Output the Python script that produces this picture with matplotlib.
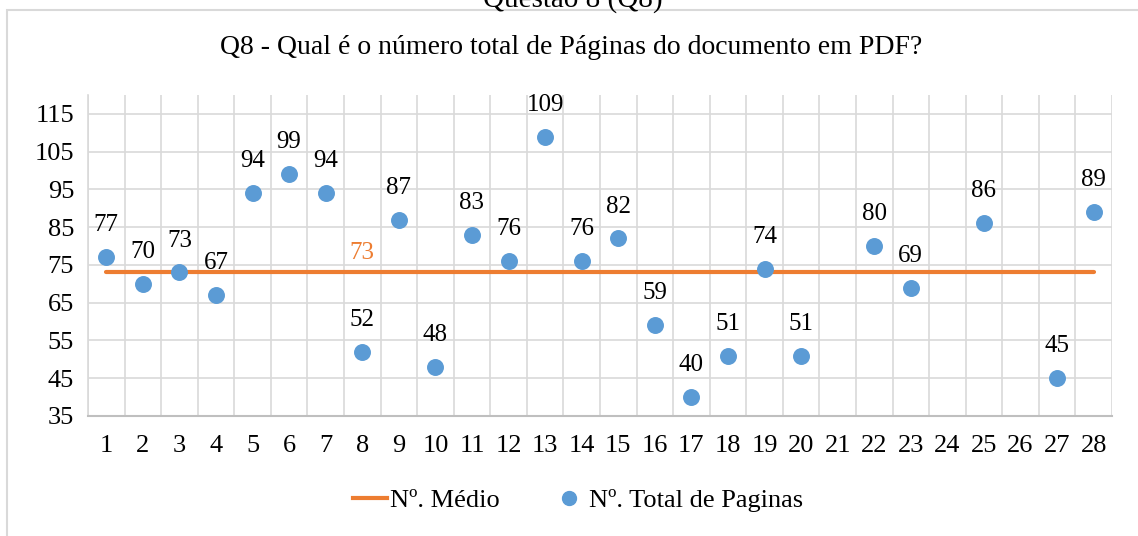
import matplotlib.pyplot as plt
from matplotlib.patches import Rectangle
from matplotlib.lines import Line2D

plt.rcParams['font.family'] = ['Liberation Serif', 'DejaVu Serif']

# data
categorias = list(range(1, 29))
x_pontos = [1, 2, 3, 4, 5, 6, 7, 8, 9, 10, 11, 12, 13, 14, 15, 16, 17, 18, 19, 20,
            22, 23, 25, 27, 28]
paginas = [77, 70, 73, 67, 94, 99, 94, 52, 87, 48, 83, 76, 109, 76, 82, 59, 40, 51, 74, 51,
           80, 69, 86, 45, 89]
media = 73
media_x = [1, 28]

azul = '#5B9BD5'
laranja = '#ED7D31'
grade = '#D9D9D9'

fig = plt.figure(figsize=(11.38, 5.36), dpi=100)
ax = fig.add_axes([0.0773, 0.2239, 0.8998, 0.5989])

# chart border (cut off at right/bottom like the screenshot)
fig.patches.append(Rectangle((0.006, -0.05), 1.1, 0.981 + 0.05, transform=fig.transFigure,
                             fill=False, edgecolor=grade, linewidth=1.5))

fig.text(0.503, 0.987, 'Questão 8 (Q8)', ha='center', va='baseline', fontsize=21)
fig.text(0.502, 0.912, 'Q8 - Qual é o número total de Páginas do documento em PDF?',
         ha='center', va='center', fontsize=20)

ax.plot(media_x, [media, media], color=laranja, linewidth=3, solid_capstyle='round',
        zorder=3, label='Nº. Médio')
ax.scatter(x_pontos, paginas, s=125, color=azul, zorder=4, label='Nº. Total de Paginas')

for xi, yi in zip(x_pontos, paginas):
    ax.annotate(str(yi), (xi, yi), xytext=(0, 23), textcoords='offset points',
                ha='center', va='center', fontsize=18)
ax.annotate(str(media), (8, media), xytext=(0, 14), textcoords='offset points',
            ha='center', va='center', fontsize=18, color=laranja)

ax.set_xlim(0.5, 28.5)
ax.set_ylim(35, 120)
ax.set_yticks(range(35, 116, 10))
ax.set_xticks(categorias)
ax.set_xticklabels([str(c) for c in categorias])
ax.tick_params(axis='both', length=0, labelsize=19)
ax.tick_params(axis='x', pad=14)
ax.tick_params(axis='y', pad=10)

for yv in range(35, 116, 10):
    ax.axhline(yv, color=grade, linewidth=1.2, zorder=1)
for xv in range(0, 29):
    ax.axvline(xv + 0.5, color=grade, linewidth=1.2, zorder=1)

for s in ['top', 'right']:
    ax.spines[s].set_visible(False)
ax.spines['left'].set_color(grade)
ax.spines['bottom'].set_color('#BFBFBF')
ax.spines['left'].set_linewidth(1.2)
ax.spines['bottom'].set_linewidth(1.5)

handles = [Line2D([], [], color=laranja, linewidth=3),
           Line2D([], [], color=azul, marker='o', linestyle='', markersize=10)]
fig.legend(handles, ['Nº. Médio', 'Nº. Total de Paginas'], loc='center',
           bbox_to_anchor=(0.508, 0.067), ncol=2, frameon=False, fontsize=19,
           handlelength=1.3, handletextpad=0.1, columnspacing=2.0)

fig.savefig('out.png', dpi=100)
